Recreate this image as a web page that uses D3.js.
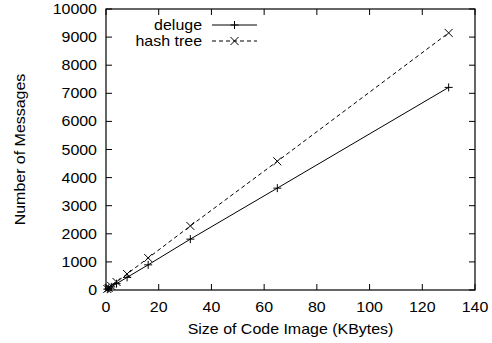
<!DOCTYPE html>
<html>
<head>
<meta charset="utf-8">
<script src="https://cdn.jsdelivr.net/npm/d3@7"></script>
<style>
  body { margin: 0; background: #fff; }
  text { font-family: "Liberation Sans", Arial, sans-serif; fill: #000; }
</style>
</head>
<body>
<div id="chart"></div>
<script>
const sizes = [0.5, 1, 2, 4, 8, 16, 32, 65, 130];
const deluge = [28, 56, 112, 225, 450, 895, 1810, 3625, 7210];
const hashTree = [36, 71, 142, 285, 570, 1140, 2280, 4580, 9150];
const xTicks = [0, 20, 40, 60, 80, 100, 120, 140];
const yTicks = [0, 1000, 2000, 3000, 4000, 5000, 6000, 7000, 8000, 9000, 10000];

const width = 492, height = 343;
const margin = { top: 9, right: 17, bottom: 53, left: 106 };
const stretch = 1.14; // the original font is a bit wider than Liberation Sans

const svg = d3.select('#chart').append('svg')
  .attr('width', width)
  .attr('height', height);

const x = d3.scaleLinear().domain([0, 140]).range([margin.left, width - margin.right]);
const y = d3.scaleLinear().domain([0, 10000]).range([height - margin.bottom, margin.top]);

const tickLen = 6;

function label(g, tx, ty, str, anchor, rot) {
  return g.append('text')
    .attr('transform', `translate(${tx},${ty})${rot ? ' rotate(' + rot + ')' : ''} scale(${stretch},1)`)
    .attr('text-anchor', anchor).attr('font-size', 14).text(str);
}

// x ticks, mirrored on top
const xa = svg.append('g');
xTicks.forEach(t => {
  xa.append('line').attr('x1', x(t)).attr('x2', x(t))
    .attr('y1', y(0)).attr('y2', y(0) - tickLen).attr('stroke', '#000');
  xa.append('line').attr('x1', x(t)).attr('x2', x(t))
    .attr('y1', y(10000)).attr('y2', y(10000) + tickLen).attr('stroke', '#000');
  label(xa, x(t), y(0) + 22, t, 'middle');
});

// y ticks, mirrored on right
const ya = svg.append('g');
yTicks.forEach(t => {
  ya.append('line').attr('x1', x(0)).attr('x2', x(0) + tickLen)
    .attr('y1', y(t)).attr('y2', y(t)).attr('stroke', '#000');
  ya.append('line').attr('x1', x(140)).attr('x2', x(140) - tickLen)
    .attr('y1', y(t)).attr('y2', y(t)).attr('stroke', '#000');
  label(ya, x(0) - 9, y(t) + 5, t, 'end');
});

// frame
svg.append('rect')
  .attr('x', x(0)).attr('y', y(10000))
  .attr('width', x(140) - x(0)).attr('height', y(0) - y(10000))
  .attr('fill', 'none').attr('stroke', '#000').attr('stroke-width', 1.2);

// axis titles
label(svg, (x(0) + x(140)) / 2, 334, 'Size of Code Image (KBytes)', 'middle');
label(svg, 25, (y(0) + y(10000)) / 2, 'Number of Messages', 'middle', -90);

const line = d3.line().x(d => x(d[0])).y(d => y(d[1]));

function plusMark(g, cx, cy) {
  g.append('path').attr('d', `M${cx - 4},${cy}H${cx + 4}M${cx},${cy - 4}V${cy + 4}`)
    .attr('stroke', '#000').attr('stroke-width', 1);
}
function crossMark(g, cx, cy) {
  g.append('path').attr('d', `M${cx - 4},${cy - 4}L${cx + 4},${cy + 4}M${cx - 4},${cy + 4}L${cx + 4},${cy - 4}`)
    .attr('stroke', '#000').attr('stroke-width', 1);
}

const series = [
  { name: 'deluge', values: deluge, dash: null, mark: plusMark },
  { name: 'hash tree', values: hashTree, dash: '4,3', mark: crossMark }
];

series.forEach((s, i) => {
  const pts = sizes.map((v, j) => [v, s.values[j]]);
  const g = svg.append('g');
  g.append('path').attr('d', line(pts))
    .attr('fill', 'none').attr('stroke', '#000').attr('stroke-width', 1)
    .attr('stroke-dasharray', s.dash);
  pts.forEach(p => s.mark(g, x(p[0]), y(p[1])));

  // legend
  const ly = 25 + i * 16;
  label(svg, 202, ly + 5, s.name, 'end');
  svg.append('line').attr('x1', 212).attr('x2', 257).attr('y1', ly).attr('y2', ly)
    .attr('stroke', '#000').attr('stroke-width', 1).attr('stroke-dasharray', s.dash);
  s.mark(svg, 234.5, ly);
});
</script>
</body>
</html>
